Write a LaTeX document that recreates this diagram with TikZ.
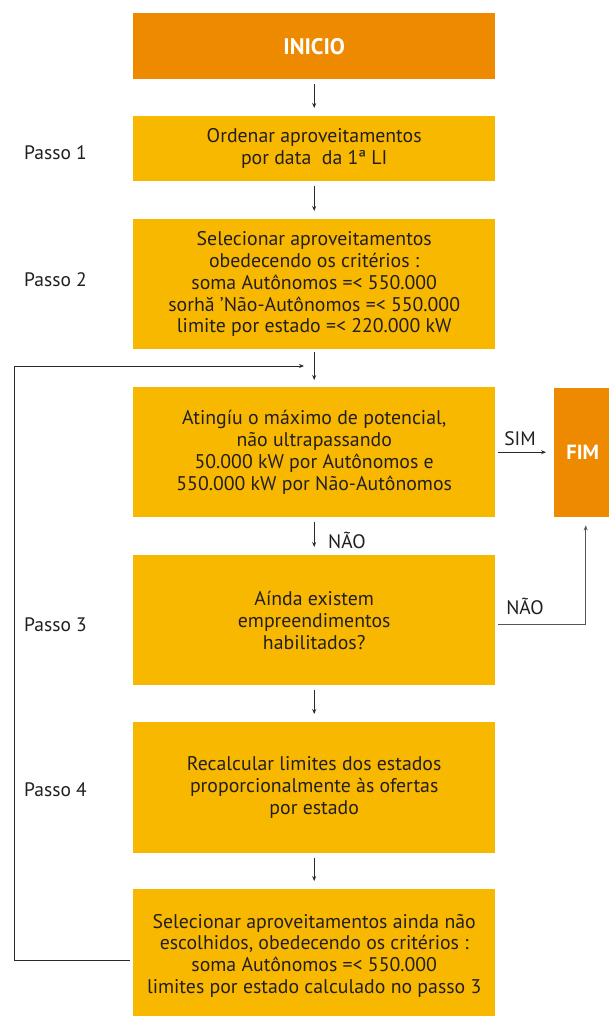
\documentclass[tikz,border=0pt]{standalone}
\usepackage{fontspec}
\setmainfont{PT Sans}
\usetikzlibrary{arrows.meta}
\definecolor{orng}{HTML}{EE8A00}
\definecolor{yel}{HTML}{F9B800}
\definecolor{txt}{HTML}{231F20}
\definecolor{ln}{HTML}{2A2A2A}
\begin{document}
\begin{tikzpicture}[x=1pt,y=-1pt,
  box/.style={fill=yel, draw=none, minimum width=362pt, anchor=north west, text=txt, align=center,
    font=\fontsize{19.8}{21.8}\selectfont, inner sep=0pt},
  endbox/.style={fill=orng, draw=none, anchor=north west, text=white, align=center,
    font=\fontsize{20.5}{22}\selectfont\bfseries, inner sep=0pt},
  lbl/.style={text=txt, font=\fontsize{19.5}{22}\selectfont, inner sep=0pt},
  arr/.style={draw=ln, line width=0.9pt, -{Stealth[length=5pt,width=4pt]}},
  vstep/.style={arr, shorten <=5pt, shorten >=8pt}
]
\useasboundingbox (0,0) rectangle (609,1016);
\fill[white] (0,0) rectangle (609,1016);

\node[endbox, minimum width=362pt, minimum height=66pt, font=\fontsize{22.5}{24}\selectfont\bfseries] (ini) at (133,13) {INICIO};
\node[box, minimum height=65pt] (b1) at (133,116) {Ordenar aproveitamentos\\por data\ \ da 1ª LI};
\node[box, minimum height=130pt] (b2) at (133,219) {Selecionar aproveitamentos\\obedecendo os critérios :\\soma Autônomos =< 550.000\\sorhă ’Não-Autônomos =< 550.000\\limite por estado =< 220.000 kW};
\node[box, minimum height=130pt] (b3) at (133,387) {Atingíu o máximo de potencial,\\não ultrapassando\\50.000 kW por Autônomos e\\550.000 kW por Não-Autônomos};
\node[endbox, minimum width=57pt, minimum height=129pt] (fim) at (554,388) {FIM};
\node[box, minimum height=130pt] (b4) at (133,555) {Aínda existem\\empreendimentos\\habilitados?};
\node[box, minimum height=131pt] (b5) at (133,722) {Recalcular limites dos estados\\proporcionalmente às ofertas\\por estado};
\node[box, minimum height=133pt] (b6) at (133,889) {Selecionar aproveitamentos ainda não\\escolhidos, obedecendo os critérios :\\soma Autônomos =< 550.000\\limites por estado calculado no passo 3};

\node[lbl, anchor=west] (p1) at (24,153) {Passo 1};
\node[lbl, anchor=west] (p2) at (24,280) {Passo 2};
\node[lbl, anchor=west] (p3) at (24,625) {Passo 3};
\node[lbl, anchor=west] (p4) at (24,790) {Passo 4};

\draw[vstep] (ini.south) -- (b1.north);
\draw[vstep] (b1.south) -- (b2.north);
\draw[arr, shorten <=3pt, shorten >=7pt] (b2.south) -- (b3.north);
\draw[vstep] (b3.south) -- (b4.north);
\draw[vstep] (b4.south) -- (b5.north);
\draw[vstep] (b5.south) -- (b6.north);

\coordinate (lc) at (14,366);
\coordinate (lin) at (304,366);
\draw[arr] ([xshift=-3pt,yshift=-5pt]b6.west) -| (lc) -- (lin);

\draw[arr, shorten <=3pt, shorten >=8pt] (b3.east) -- (b3.east -| fim.west);
\node[lbl, anchor=south] (sim) at (520,446) {SIM};

\draw[arr, draw=ln!80, shorten <=3pt, shorten >=8pt] ([yshift=-4pt]b4.east) -| ([xshift=3pt]fim.south);
\node[lbl, anchor=south] (nao2) at (525,615) {NÃO};

\node[lbl, anchor=west] (nao1) at (328,540) {NÃO};
\end{tikzpicture}
\end{document}
